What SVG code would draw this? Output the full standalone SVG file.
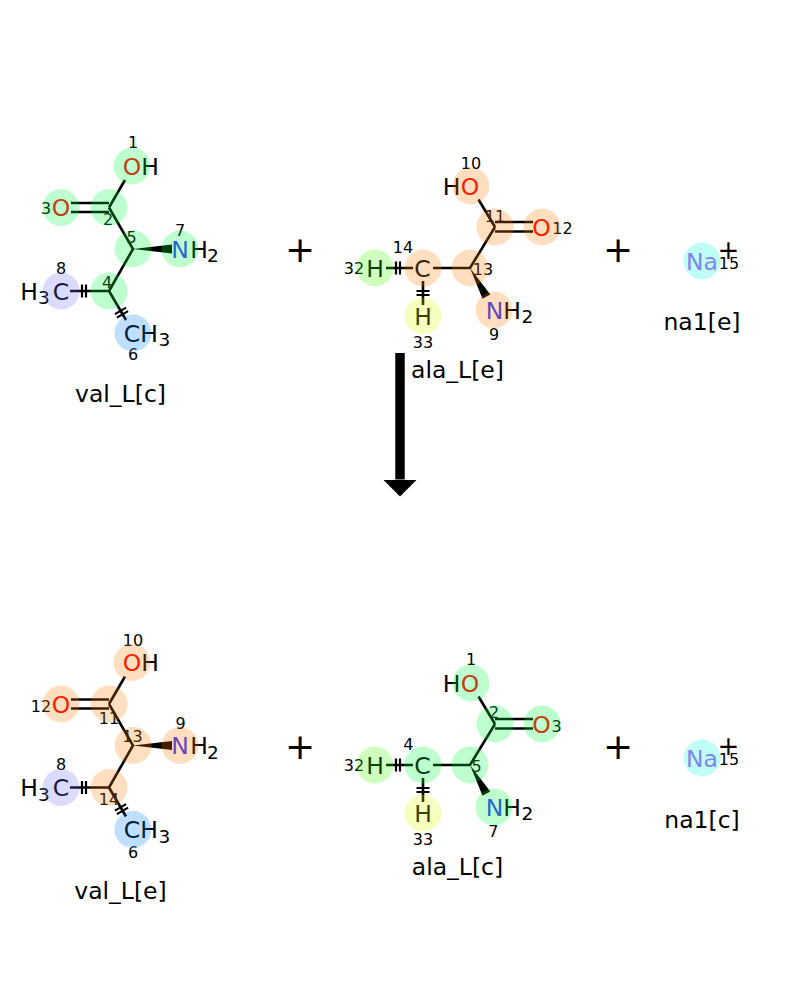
<svg xmlns="http://www.w3.org/2000/svg" width="800" height="1000" viewBox="0 0 800 1000">
<style>
text{font-family:"DejaVu Sans","Liberation Sans",sans-serif;text-anchor:middle;fill:#000}
.a{font-size:23.5px}
.s{font-size:18.5px}
.n{font-size:16px}
.nm{font-size:23.5px}
.op{font-size:36px}
.ch{font-size:26px}
.O{fill:#ff0000}
.N{fill:#3333ff}
.Na{fill:#ab5cf2}
.bd{stroke:#000;stroke-width:2.6;fill:none;stroke-linecap:butt}
.tk{stroke:#000;stroke-width:2.2;fill:none}
.wd{fill:#000}
.hl{fill-opacity:0.25;stroke:none}
.g{fill:#00ff40}.o{fill:#ff8000}.p{fill:#7070ff}.b{fill:#0080ff}.lg{fill:#40ff00}.y{fill:#e0ff00}.c{fill:#00ffe0}
.arr{stroke:#000;stroke-width:9.5;fill:none}
</style>
<defs>
<marker id="ah" markerUnits="userSpaceOnUse" viewBox="0 0 17 34" markerWidth="17" markerHeight="34" refX="0" refY="17" orient="auto"><path d="M0,0 L17,17 L0,34 Z" fill="#000"/></marker>
</defs>

<g id="val_L_c">
<path class="bd" d="M109,207.5 L125,180 M71,203 L109,203 M71,212 L109,212 M109,207.5 L133,249 L109,291 M109,291 L70,291 M109,291 L126,320"/>
<path class="tk" d="M86,284.5 V297.5 M82,284.5 V297.5 M126.1,307.65 L114.9,314.15 M128.1,311.15 L116.9,317.65"/>
<polygon class="wd" points="133,249 172,244.5 172,253.5"/>
<text class="a" y="174.5"><tspan x="132" class="O">O</tspan><tspan x="150">H</tspan></text>
<text class="a" x="61" y="216"><tspan class="O">O</tspan></text>
<text class="a" y="257.5"><tspan x="180" class="N">N</tspan><tspan x="199">H</tspan><tspan x="213" y="262" class="s">2</tspan></text>
<text class="a" y="299.5"><tspan x="29">H</tspan><tspan x="44" y="304" class="s">3</tspan><tspan x="61" y="299.5">C</tspan></text>
<text class="a" y="341.5"><tspan x="132">C</tspan><tspan x="149">H</tspan><tspan x="164.5" y="346" class="s">3</tspan></text>
<text class="n" x="133" y="148">1</text>
<text class="n" x="108" y="225">2</text>
<text class="n" x="46" y="213.5">3</text>
<text class="n" x="107" y="288">4</text>
<text class="n" x="131.5" y="243">5</text>
<text class="n" x="133" y="360">6</text>
<text class="n" x="180" y="236">7</text>
<text class="n" x="61" y="274">8</text>
<circle class="hl g" cx="132" cy="166" r="18.5"/>
<circle class="hl g" cx="61" cy="207.5" r="18.5"/>
<circle class="hl g" cx="109" cy="207.5" r="18.5"/>
<circle class="hl g" cx="133" cy="249" r="18.5"/>
<circle class="hl g" cx="180" cy="249" r="18.5"/>
<circle class="hl g" cx="109" cy="291" r="18.5"/>
<circle class="hl p" cx="61" cy="291" r="18.5"/>
<circle class="hl b" cx="133" cy="333" r="18.5"/>
<text class="nm" x="120.5" y="402">val_L[c]</text>
</g>

<g id="ala_L_e">
<path class="bd" d="M495,227 L478.5,199.5 M495,222 L533,222 M495,231.5 L533,231.5 M495,227 L470,268 L433,268 M413,268 L386,268 M423,281 L423,305"/>
<path class="tk" d="M396,261.5 V274.5 M400,261.5 V274.5 M416.5,291 H429.5 M416.5,295 H429.5"/>
<polygon class="wd" points="470,268 490.3,294.4 482.5,298.8"/>
<text class="a" y="194.5"><tspan x="451.5">H</tspan><tspan x="470" class="O">O</tspan></text>
<text class="a" x="541.5" y="235.5"><tspan class="O">O</tspan></text>
<text class="a" x="422.5" y="276.5">C</text>
<text class="a" x="375" y="276.5">H</text>
<text class="a" x="423" y="324.5">H</text>
<text class="a" y="318.5"><tspan x="494.5" class="N">N</tspan><tspan x="512">H</tspan><tspan x="527.5" y="323" class="s">2</tspan></text>
<text class="n" x="494" y="340">9</text>
<text class="n" x="471" y="168.5">10</text>
<text class="n" x="495" y="221.5">11</text>
<text class="n" x="562.5" y="233.5">12</text>
<text class="n" x="483" y="275">13</text>
<text class="n" x="403" y="252.5">14</text>
<text class="n" x="354" y="274">32</text>
<text class="n" x="423" y="348">33</text>
<circle class="hl o" cx="471" cy="186" r="18.5"/>
<circle class="hl o" cx="495" cy="227" r="18.5"/>
<circle class="hl o" cx="542" cy="227" r="18.5"/>
<circle class="hl o" cx="470" cy="268" r="18.5"/>
<circle class="hl o" cx="423" cy="268" r="18.5"/>
<circle class="hl lg" cx="375" cy="268" r="18.5"/>
<circle class="hl y" cx="423" cy="316" r="18.5"/>
<circle class="hl o" cx="494" cy="310" r="18.5"/>
<text class="nm" x="457.5" y="377.5">ala_L[e]</text>
</g>

<g id="na1_e">
<text class="a" x="702" y="269.5"><tspan class="Na">Na</tspan></text>
<text class="ch" x="728.3" y="258.6">+</text>
<text class="n" x="729" y="268.5">15</text>
<circle class="hl c" cx="702" cy="261" r="18.5"/>
<text class="nm" x="702" y="330">na1[e]</text>
</g>

<g id="val_L_e">
<path class="bd" transform="translate(0,496.5)" d="M109,207.5 L125,180 M71,203 L109,203 M71,212 L109,212 M109,207.5 L133,249 L109,291 M109,291 L70,291 M109,291 L126,320"/>
<path class="tk" transform="translate(0,496.5)" d="M86,284.5 V297.5 M82,284.5 V297.5 M126.1,307.65 L114.9,314.15 M128.1,311.15 L116.9,317.65"/>
<polygon class="wd" transform="translate(0,496.5)" points="133,249 172,244.5 172,253.5"/>
<text class="a" y="671"><tspan x="132" class="O">O</tspan><tspan x="150">H</tspan></text>
<text class="a" x="61" y="712.5"><tspan class="O">O</tspan></text>
<text class="a" y="754"><tspan x="180" class="N">N</tspan><tspan x="199">H</tspan><tspan x="213" y="758.5" class="s">2</tspan></text>
<text class="a" y="796"><tspan x="29">H</tspan><tspan x="44" y="800.5" class="s">3</tspan><tspan x="61" y="796">C</tspan></text>
<text class="a" y="838"><tspan x="132">C</tspan><tspan x="149">H</tspan><tspan x="164.5" y="842.5" class="s">3</tspan></text>
<text class="n" x="133" y="858">6</text>
<text class="n" x="61" y="770">8</text>
<text class="n" x="180.7" y="729">9</text>
<text class="n" x="133" y="646">10</text>
<text class="n" x="109" y="723.5">11</text>
<text class="n" x="41" y="711.5">12</text>
<text class="n" x="132.5" y="741.5">13</text>
<text class="n" x="109" y="805">14</text>
<circle class="hl o" cx="132" cy="662.5" r="18.5"/>
<circle class="hl o" cx="61" cy="704" r="18.5"/>
<circle class="hl o" cx="109" cy="704" r="18.5"/>
<circle class="hl o" cx="133" cy="745.5" r="18.5"/>
<circle class="hl o" cx="180" cy="745.5" r="18.5"/>
<circle class="hl o" cx="109" cy="787.5" r="18.5"/>
<circle class="hl p" cx="61" cy="787.5" r="18.5"/>
<circle class="hl b" cx="133" cy="829.5" r="18.5"/>
<text class="nm" x="120.5" y="898.5">val_L[e]</text>
</g>

<g id="ala_L_c">
<path class="bd" transform="translate(0,497)" d="M495,227 L478.5,199.5 M495,222 L533,222 M495,231.5 L533,231.5 M495,227 L470,268 L433,268 M413,268 L386,268 M423,281 L423,305"/>
<path class="tk" transform="translate(0,497)" d="M396,261.5 V274.5 M400,261.5 V274.5 M416.5,291 H429.5 M416.5,295 H429.5"/>
<polygon class="wd" transform="translate(0,497)" points="470,268 490.3,294.4 482.5,298.8"/>
<text class="a" y="691.5"><tspan x="451.5">H</tspan><tspan x="470" class="O">O</tspan></text>
<text class="a" x="541.5" y="732.5"><tspan class="O">O</tspan></text>
<text class="a" x="422.5" y="773.5">C</text>
<text class="a" x="375" y="773.5">H</text>
<text class="a" x="423" y="821.5">H</text>
<text class="a" y="815.5"><tspan x="494.5" class="N">N</tspan><tspan x="512">H</tspan><tspan x="527.5" y="820" class="s">2</tspan></text>
<text class="n" x="471" y="665">1</text>
<text class="n" x="494" y="718">2</text>
<text class="n" x="556.7" y="732">3</text>
<text class="n" x="408.3" y="750">4</text>
<text class="n" x="476.7" y="772">5</text>
<text class="n" x="493.3" y="837">7</text>
<text class="n" x="354" y="771">32</text>
<text class="n" x="423" y="845">33</text>
<circle class="hl g" cx="471" cy="683" r="18.5"/>
<circle class="hl g" cx="495" cy="724" r="18.5"/>
<circle class="hl g" cx="542" cy="724" r="18.5"/>
<circle class="hl g" cx="470" cy="765" r="18.5"/>
<circle class="hl g" cx="423" cy="765" r="18.5"/>
<circle class="hl lg" cx="375" cy="765" r="18.5"/>
<circle class="hl y" cx="423" cy="813" r="18.5"/>
<circle class="hl g" cx="494" cy="807" r="18.5"/>
<text class="nm" x="457.5" y="874.5">ala_L[c]</text>
</g>

<g id="na1_c">
<text class="a" x="702" y="766.5"><tspan class="Na">Na</tspan></text>
<text class="ch" x="728.3" y="755.3">+</text>
<text class="n" x="729" y="765">15</text>
<circle class="hl c" cx="702" cy="758" r="18.5"/>
<text class="nm" x="702" y="828">na1[c]</text>
</g>

<g id="plus_signs">
<text class="op" x="300" y="261.5">+</text>
<text class="op" x="618" y="261.5">+</text>
<text class="op" x="300" y="758.5">+</text>
<text class="op" x="618" y="758.5">+</text>
</g>

<g id="connectors">
<line class="arr" x1="400" y1="353" x2="400" y2="479.5" marker-end="url(#ah)"/>
</g>
</svg>
